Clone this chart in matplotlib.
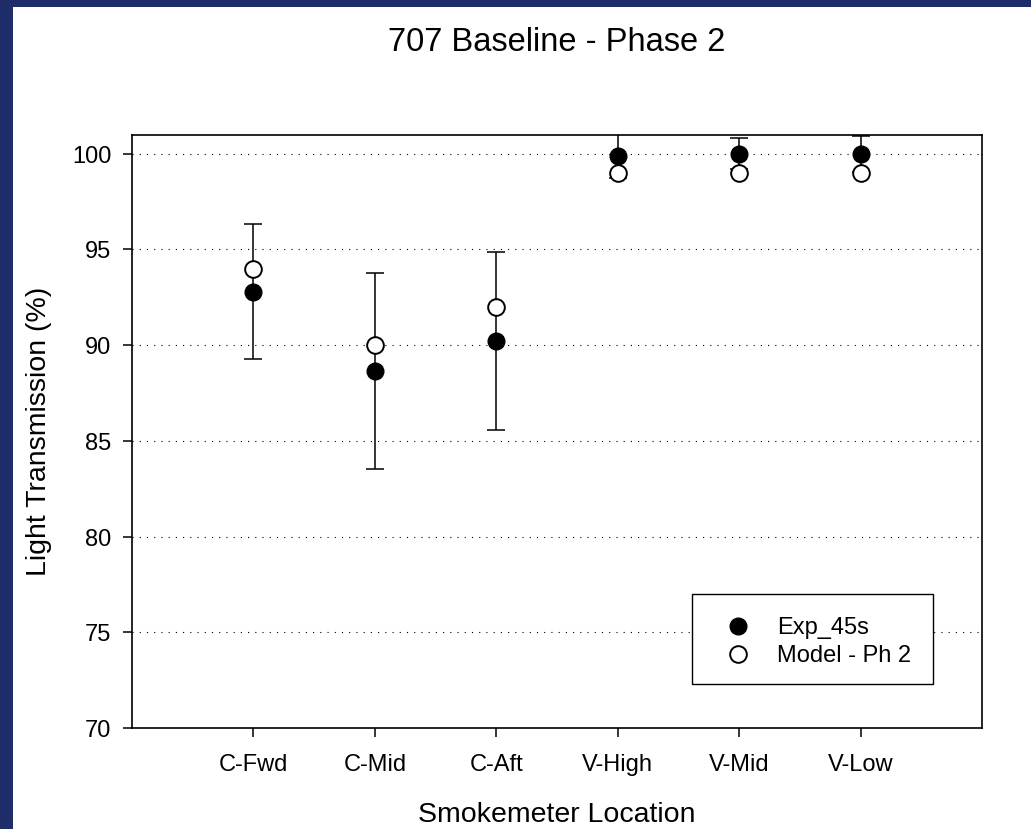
import numpy as np
import matplotlib
matplotlib.use('Agg')
import matplotlib.pyplot as plt
from matplotlib.patches import Rectangle

# data
locations = ['C-Fwd', 'C-Mid', 'C-Aft', 'V-High', 'V-Mid', 'V-Low']
exp_45s = [92.8, 88.65, 90.22, 99.9, 100.0, 100.0]
exp_err = [3.55, 5.1, 4.65, 1.15, 0.8, 0.95]
model_ph2 = [94.0, 90.0, 92.0, 99.0, 99.0, 99.0]

plt.rcParams['font.family'] = ['Liberation Sans', 'DejaVu Sans']

W, H = 1031, 829
fig = plt.figure(figsize=(10.31, 8.295), dpi=100)
fig.patch.set_facecolor('#1e2c69')
# white page inside the dark blue frame (left and top edges only)
fig.patches.append(Rectangle((13/W, 0), 1, 1 - 7/H, transform=fig.transFigure,
                             facecolor='white', edgecolor='none', zorder=-5))

ax = fig.add_axes([132/W, 1 - 728/H, 850/W, 593/H])

x = np.arange(1, len(locations) + 1)

ax.errorbar(x, exp_45s, yerr=exp_err, fmt='none', ecolor='black', elinewidth=1.1,
            capsize=6.5, capthick=1.1, zorder=3)
ax.plot(x, exp_45s, 'o', color='black', markersize=12, linestyle='none',
        label='Exp_45s', zorder=4)
ax.plot(x, model_ph2, 'o', markerfacecolor='white', markeredgecolor='black',
        markeredgewidth=1.4, markersize=12, linestyle='none',
        label='Model - Ph 2', zorder=5)

ax.set_xlim(0, 7)
ax.set_ylim(70, 101)
ax.set_xticks(x)
ax.set_xticklabels(locations)
ax.set_yticks(np.arange(70, 101, 5))

for yv in range(75, 101, 5):
    ax.axhline(yv, color='black', linewidth=0.8, linestyle=(0, (1, 5.5)), zorder=1)

for s in ax.spines.values():
    s.set_linewidth(1.2)
ax.tick_params(direction='out', length=6.5, width=1.1, labelsize=17, pad=8.5)
ax.tick_params(axis='x', pad=12)

ax.set_xlabel('Smokemeter Location', fontsize=20.5, labelpad=18.5)
ax.set_ylabel('Light Transmission (%)', fontsize=20.5, labelpad=14)
fig.text(557/W, 1 - 42/H, '707 Baseline - Phase 2', fontsize=23.5,
         ha='center', va='center')

# legend box drawn separately so the frame matches the reference exactly
box = Rectangle(((692 - 132)/850, (728 - 684)/593), (933 - 692)/850, (684 - 594)/593,
                transform=ax.transAxes, facecolor='white', edgecolor='black',
                linewidth=1.0, zorder=6)
ax.add_patch(box)
leg = ax.legend(loc='center', bbox_to_anchor=((812 - 132)/850, (728 - 642)/593),
                fontsize=17, frameon=False, borderpad=0.8,
                handlelength=2.1, handletextpad=0.6, labelspacing=0.25)
leg.set_zorder(7)

fig.savefig('out.png', dpi=100, facecolor=fig.get_facecolor())
